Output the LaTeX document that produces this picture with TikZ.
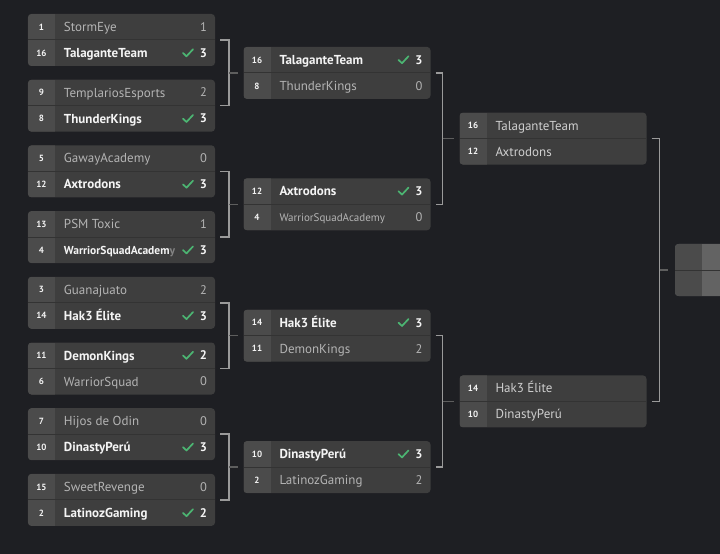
\documentclass[tikz,border=0pt]{standalone}
\usepackage{fontspec}
\setmainfont{PT Sans}
\usetikzlibrary{calc}
\definecolor{bgcol}{HTML}{1E1F23}
\definecolor{boxcol}{HTML}{3E3E3E}
\definecolor{seedcol}{HTML}{4B4B4B}
\definecolor{rulecol}{HTML}{333333}
\definecolor{wincol}{HTML}{F4F4F4}
\definecolor{losecol}{HTML}{B4B4B4}
\definecolor{opencol}{HTML}{CFCFCF}
\definecolor{checkcol}{HTML}{4CB572}
\definecolor{linkcol}{HTML}{9A9A9A}
\definecolor{stubcol}{HTML}{5E5E5E}
\newcommand{\namesize}{\fontsize{13bp}{15bp}\selectfont}
\newcommand{\smallname}{\fontsize{11bp}{13bp}\selectfont}
\tikzstyle{bracketgraph}=[x=1bp, y=-1bp,
                          % Default padding for labels.
                          every node/.style={inner sep=0, outer sep=0, text depth=0pt}]
\tikzstyle{match}=[fill=boxcol, rounded corners=3.5bp, minimum width=187bp, minimum height=52bp,
                   path picture={\fill[seedcol, sharp corners] (path picture bounding box.north west) rectangle ($(path picture bounding box.south west)+(27bp,0)$);
                                 \draw[rulecol, line width=1bp, sharp corners] (path picture bounding box.west) -- (path picture bounding box.east);}]
\tikzstyle{seed}=[text=wincol, font=\fontsize{9bp}{10bp}\selectfont\bfseries, text height=6.3bp]
\tikzstyle{team}=[anchor=west, text height=9.1bp, font=\namesize]
\tikzstyle{winteam}=[team, text=wincol, font=\namesize\bfseries]
\tikzstyle{loseteam}=[team, text=losecol]
\tikzstyle{openteam}=[team, text=opencol]
\tikzstyle{score}=[anchor=east, text height=8.6bp, font=\fontsize{12.5bp}{14bp}\selectfont]
\tikzstyle{winscore}=[score, text=wincol, font=\fontsize{12.5bp}{14bp}\selectfont\bfseries]
\tikzstyle{losescore}=[score, text=losecol]
\tikzstyle{checkmark}=[draw=checkcol, line width=1.7bp, line cap=round, line join=round]
\tikzstyle{link}=[draw=linkcol, line width=1.5bp]
\tikzstyle{stub}=[draw=stubcol, line width=1.5bp]
% #1 match, #2 row (1 or 2), #3 seed, #4 team, #5 score
\newcommand{\winner}[5]{%
  \node[seed] (#1-#2-seed) at ($(#1.north west)+(13.5,26*#2-13)$) {#3};
  \node[winteam] (#1-#2-team) at ($(#1.north west)+(36,26*#2-13)$) {#4};
  \node[winscore] (#1-#2-score) at ($(#1.north east)+(-8,26*#2-13)$) {#5};
  \draw[checkmark] ($(#1.north east)+(-32,26*#2-13)$) -- ++(3.5,3.3) -- ++(6.5,-7);}
\newcommand{\loser}[5]{%
  \node[seed] (#1-#2-seed) at ($(#1.north west)+(13.5,26*#2-13)$) {#3};
  \node[loseteam] (#1-#2-team) at ($(#1.north west)+(36,26*#2-13)$) {#4};
  \node[losescore] (#1-#2-score) at ($(#1.north east)+(-8,26*#2-13)$) {#5};}
\newcommand{\pending}[4]{%
  \node[seed] (#1-#2-seed) at ($(#1.north west)+(13.5,26*#2-13)$) {#3};
  \node[openteam] (#1-#2-team) at ($(#1.north west)+(36,26*#2-13)$) {#4};}
% #1 upper match, #2 lower match, #3 next match, #4 offset of the upright, #5 gap before next
\newcommand{\bracket}[5]{%
  \coordinate (#3-in) at ($(#2.east)+(#4,0)$);
  \draw[link] ($(#1.east)+(5,0)$) -| (#3-in) -- ($(#2.east)+(5,0)$);
  \draw[stub] (#3-in |- #3.west) -- ($(#3.west)+(-#5,0)$);}

\begin{document}
\begin{tikzpicture}[bracketgraph]
        \useasboundingbox (0,0) rectangle (720,554);
        \clip (0,0) rectangle (720,554);
        \fill[bgcol] (0,0) rectangle (720,554);
        % first round
        \node[match] (r1m1) at (121.5, 40.0) {};
        \node[match] (r1m2) at (121.5,105.7) {};
        \node[match] (r1m3) at (121.5,171.4) {};
        \node[match] (r1m4) at (121.5,237.1) {};
        \node[match] (r1m5) at (121.5,302.8) {};
        \node[match] (r1m6) at (121.5,368.5) {};
        \node[match] (r1m7) at (121.5,434.2) {};
        \node[match] (r1m8) at (121.5,499.9) {};
        % quarter finals
        \node[match] (r2m1) at (337, 72.9) {};
        \node[match] (r2m2) at (337,204.3) {};
        \node[match] (r2m3) at (337,335.7) {};
        \node[match] (r2m4) at (337,467.1) {};
        % semi finals and final
        \node[match] (r3m1) at (553,138.6) {};
        \node[match] (r3m2) at (553,401.4) {};
        \node[match, fill=boxcol!85!white!95] (r4m1) at (768.5,270) {};
        \loser{r1m1}{1}{1}{StormEye}{1}
        \winner{r1m1}{2}{16}{TalaganteTeam}{3}
        \loser{r1m2}{1}{9}{TemplariosEsports}{2}
        \winner{r1m2}{2}{8}{ThunderKings}{3}
        \loser{r1m3}{1}{5}{GawayAcademy}{0}
        \winner{r1m3}{2}{12}{Axtrodons}{3}
        \loser{r1m4}{1}{13}{PSM Toxic}{1}
        \winner{r1m4}{2}{4}{\fontsize{11.5bp}{13bp}\selectfont WarriorSquadAcadem\textcolor{losecol!60!boxcol}{y}}{3}
        \loser{r1m5}{1}{3}{Guanajuato}{2}
        \winner{r1m5}{2}{14}{Hak3 Élite}{3}
        \winner{r1m6}{1}{11}{DemonKings}{2}
        \loser{r1m6}{2}{6}{WarriorSquad}{0}
        \loser{r1m7}{1}{7}{Hijos de Odin}{0}
        \winner{r1m7}{2}{10}{DinastyPerú}{3}
        \loser{r1m8}{1}{15}{SweetRevenge}{0}
        \winner{r1m8}{2}{2}{LatinozGaming}{2}
        \winner{r2m1}{1}{16}{TalaganteTeam}{3}
        \loser{r2m1}{2}{8}{ThunderKings}{0}
        \winner{r2m2}{1}{12}{Axtrodons}{3}
        \loser{r2m2}{2}{4}{\smallname WarriorSquadAcademy}{0}
        \winner{r2m3}{1}{14}{Hak3 Élite}{3}
        \loser{r2m3}{2}{11}{DemonKings}{2}
        \winner{r2m4}{1}{10}{DinastyPerú}{3}
        \loser{r2m4}{2}{2}{LatinozGaming}{2}
        \pending{r3m1}{1}{16}{TalaganteTeam}
        \pending{r3m1}{2}{12}{Axtrodons}
        \pending{r3m2}{1}{14}{Hak3 Élite}
        \pending{r3m2}{2}{10}{DinastyPerú}
        \bracket{r1m1}{r1m2}{r2m1}{14}{6}
        \bracket{r1m3}{r1m4}{r2m2}{14}{6}
        \bracket{r1m5}{r1m6}{r2m3}{14}{6}
        \bracket{r1m7}{r1m8}{r2m4}{14}{6}
        \bracket{r2m1}{r2m2}{r3m1}{12}{6}
        \bracket{r2m3}{r2m4}{r3m2}{12}{6}
        \bracket{r3m1}{r3m2}{r4m1}{13}{7}
    \end{tikzpicture}
\end{document}
